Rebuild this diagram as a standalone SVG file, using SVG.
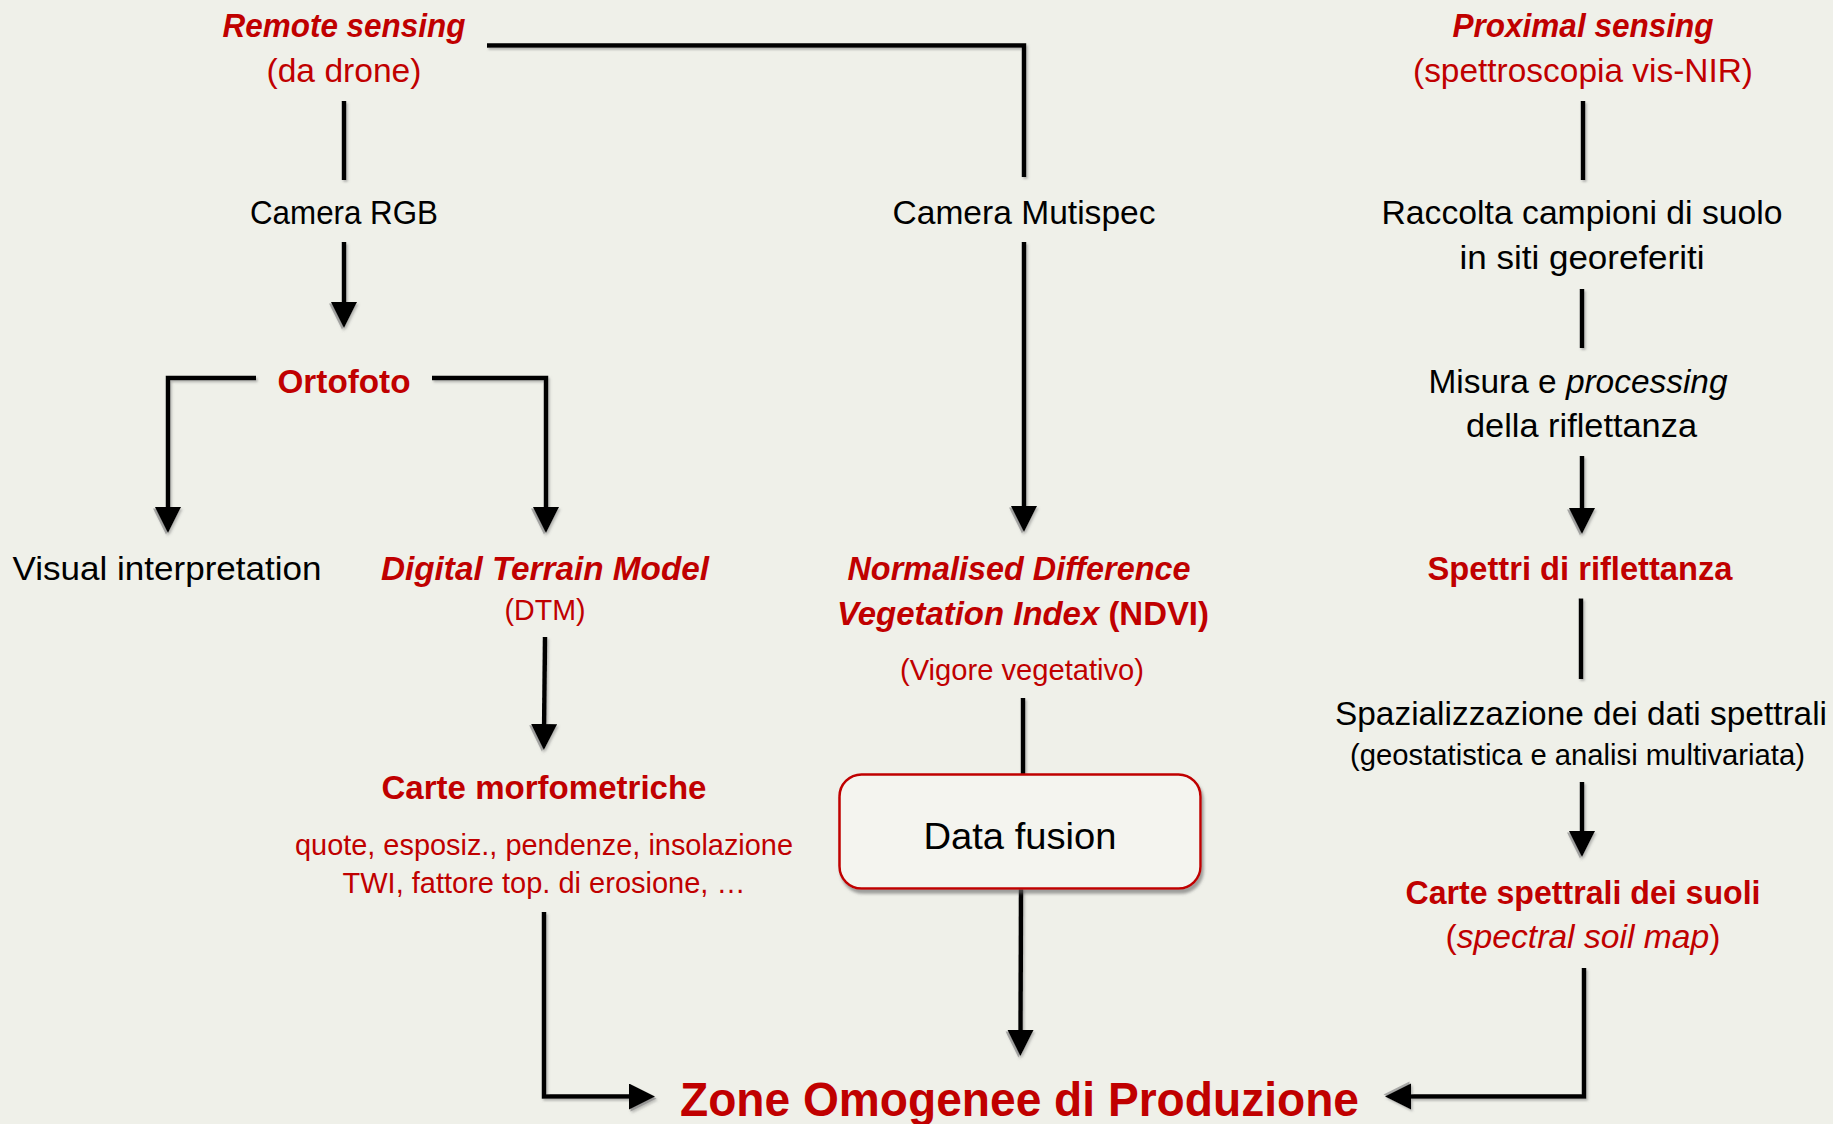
<svg xmlns="http://www.w3.org/2000/svg" width="1833" height="1124" viewBox="0 0 1833 1124">
<defs>
<style>
text{font-family:"Liberation Sans",Arial,sans-serif;text-anchor:middle}
.k{fill:#000;font-size:33px}
.r{fill:#C00000;font-size:33px}
.rs{fill:#C00000;font-size:29px}
.ks{fill:#000;font-size:29px}
.b{font-weight:bold}
.i{font-style:italic}
.n{font-style:normal}
.bi{font-weight:bold;font-style:italic}
.c{fill:none;stroke:#000;stroke-width:4.5;stroke-linejoin:miter;stroke-linecap:butt}
.a{marker-end:url(#ah)}
</style>
<marker id="ah" markerUnits="userSpaceOnUse" markerWidth="32" markerHeight="32" viewBox="0 0 32 32" refX="14" refY="13" orient="auto">
<path d="M1.5,2.5 L27.5,15 L1.5,28 Z" fill="#8c8c8c" opacity="0.7"/>
<path d="M0,0 L26,13 L0,26 Z" fill="#000"/>
</marker>
<filter id="sh" x="-5%" y="-5%" width="115%" height="115%">
<feDropShadow dx="1.5" dy="2" stdDeviation="0.8" flood-color="#777" flood-opacity="0.5"/>
</filter>
<filter id="bsh" x="-5%" y="-5%" width="115%" height="120%">
<feDropShadow dx="2" dy="4" stdDeviation="1.5" flood-color="#666" flood-opacity="0.6"/>
</filter>
</defs>
<rect x="0" y="0" width="1833" height="1124" fill="#EFF0E9"/>

<g id="connectors" filter="url(#sh)">
<path class="c" d="M344,101 V180"/>
<path class="c a" d="M344,242 V316"/>
<path class="c a" d="M256,378 H168 V521"/>
<path class="c a" d="M432,378 H546 V521"/>
<path class="c a" d="M545,637 L544,738"/>
<path class="c a" d="M544,912 V1096.5 H643"/>
<path class="c" d="M487,45.5 H1024 V177"/>
<path class="c a" d="M1024,242 V520"/>
<path class="c" d="M1023,698 V774"/>
<path class="c a" d="M1021,888 L1020.5,1044"/>
<path class="c" d="M1583,101 V180"/>
<path class="c" d="M1582,289 V348"/>
<path class="c a" d="M1582,456 V522"/>
<path class="c" d="M1581,598.5 V679"/>
<path class="c a" d="M1582,782 V845"/>
<path class="c a" d="M1584,968 V1096.5 H1397"/>
</g>

<g id="remote-sensing">
<text class="r bi" x="344" y="36.5" textLength="243" lengthAdjust="spacingAndGlyphs">Remote sensing</text>
<text class="r" x="344" y="81.5" textLength="155" lengthAdjust="spacingAndGlyphs">(da drone)</text>
</g>
<g id="camera-rgb">
<text class="k" x="344" y="224" textLength="188" lengthAdjust="spacingAndGlyphs">Camera RGB</text>
</g>
<g id="ortofoto">
<text class="r b" x="344" y="393" style="font-size:34px" textLength="133" lengthAdjust="spacingAndGlyphs">Ortofoto</text>
</g>
<g id="visual-interpretation">
<text class="k" x="167" y="580" textLength="309" lengthAdjust="spacingAndGlyphs">Visual interpretation</text>
</g>
<g id="dtm">
<text class="r bi" x="545" y="580" textLength="328" lengthAdjust="spacingAndGlyphs">Digital Terrain Model</text>
<text class="rs" x="545" y="619.5" textLength="81" lengthAdjust="spacingAndGlyphs">(DTM)</text>
</g>
<g id="carte-morfometriche">
<text class="r b" x="544" y="798.5" textLength="325" lengthAdjust="spacingAndGlyphs">Carte morfometriche</text>
<text class="rs" x="544" y="854.5" textLength="498" lengthAdjust="spacingAndGlyphs">quote, esposiz., pendenze, insolazione</text>
<text class="rs" x="544" y="893" textLength="403" lengthAdjust="spacingAndGlyphs">TWI, fattore top. di erosione, …</text>
</g>
<g id="camera-multispec">
<text class="k" x="1024" y="224" textLength="263" lengthAdjust="spacingAndGlyphs">Camera Mutispec</text>
</g>
<g id="ndvi">
<text class="r bi" x="1019" y="580" textLength="343" lengthAdjust="spacingAndGlyphs">Normalised Difference</text>
<text class="r b" x="1023" y="625" textLength="372" lengthAdjust="spacingAndGlyphs"><tspan class="i">Vegetation Index </tspan><tspan class="n">(NDVI)</tspan></text>
<text class="rs" x="1022" y="680" textLength="244" lengthAdjust="spacingAndGlyphs">(Vigore vegetativo)</text>
</g>
<g id="data-fusion">
<rect x="839.5" y="774.5" width="361" height="114" rx="22" ry="22" fill="#F4F4EF" stroke="#C00000" stroke-width="2.5" filter="url(#bsh)"/>
<text class="k" x="1020" y="849" style="font-size:37px" textLength="193" lengthAdjust="spacingAndGlyphs">Data fusion</text>
</g>
<g id="proximal-sensing">
<text class="r bi" x="1583" y="36.5" textLength="261" lengthAdjust="spacingAndGlyphs">Proximal sensing</text>
<text class="r" x="1583" y="81.5" textLength="340" lengthAdjust="spacingAndGlyphs">(spettroscopia vis-NIR)</text>
</g>
<g id="raccolta">
<text class="k" x="1582" y="224" textLength="401" lengthAdjust="spacingAndGlyphs">Raccolta campioni di suolo</text>
<text class="k" x="1582" y="269" textLength="245" lengthAdjust="spacingAndGlyphs">in siti georeferiti</text>
</g>
<g id="misura">
<text class="k" x="1578" y="393" textLength="299" lengthAdjust="spacingAndGlyphs">Misura e <tspan class="i">processing</tspan></text>
<text class="k" x="1581.5" y="437" textLength="231" lengthAdjust="spacingAndGlyphs">della riflettanza</text>
</g>
<g id="spettri">
<text class="r b" x="1580" y="580" textLength="305" lengthAdjust="spacingAndGlyphs">Spettri di riflettanza</text>
</g>
<g id="spazializzazione">
<text class="k" x="1581" y="725" textLength="492" lengthAdjust="spacingAndGlyphs">Spazializzazione dei dati spettrali</text>
<text class="ks" x="1577.5" y="764.5" textLength="455" lengthAdjust="spacingAndGlyphs">(geostatistica e analisi multivariata)</text>
</g>
<g id="carte-spettrali">
<text class="r b" x="1583" y="903.5" textLength="355" lengthAdjust="spacingAndGlyphs">Carte spettrali dei suoli</text>
<text class="r" x="1583" y="948" textLength="275" lengthAdjust="spacingAndGlyphs">(<tspan class="i">spectral soil map</tspan>)</text>
</g>
<g id="zone-omogenee">
<text class="r b" x="1019.5" y="1116" style="font-size:49px" textLength="679" lengthAdjust="spacingAndGlyphs">Zone Omogenee di Produzione</text>
</g>
</svg>
